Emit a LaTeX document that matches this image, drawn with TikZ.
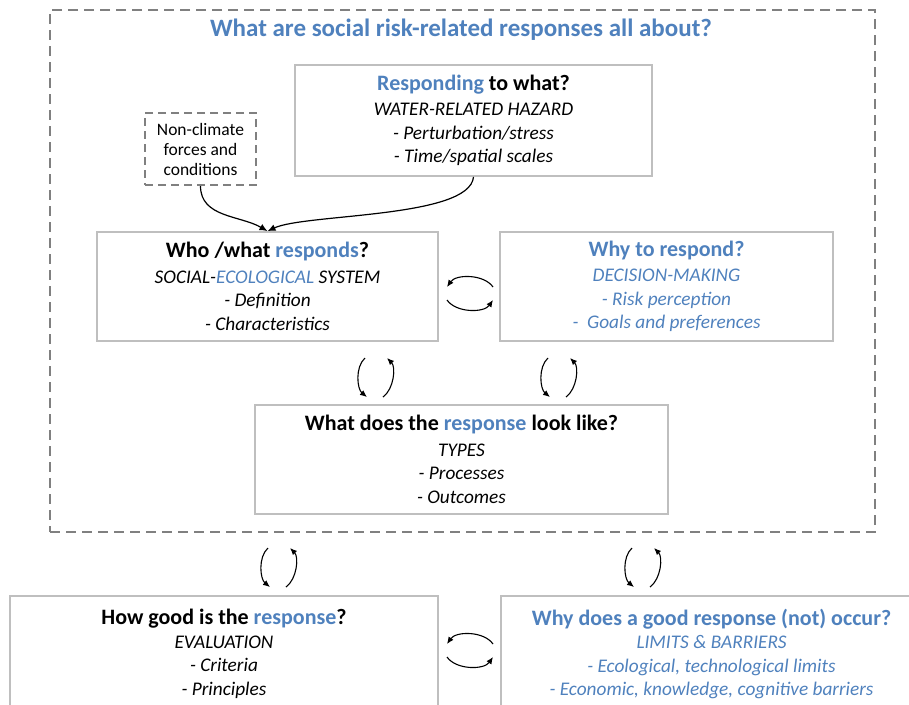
\documentclass[tikz,border=0pt]{standalone}
\usepackage{fontspec}
\setmainfont{Carlito}
\usetikzlibrary{arrows.meta,positioning}
\definecolor{hlblue}{RGB}{79,129,189}
\definecolor{boxgray}{RGB}{191,191,191}
\definecolor{framegray}{RGB}{128,128,128}
\newcommand{\boxhead}[1]{{\fontsize{22}{26}\selectfont\bfseries #1}}
\tikzset{
  box/.style={draw=boxgray,line width=1.8pt,align=center,inner sep=0pt,
    font=\fontsize{19.3}{23.5}\selectfont},
  dashbox/.style={draw=framegray,line width=2pt,dash pattern=on 8pt off 5pt,
    align=center,inner sep=0pt,font=\fontsize{17.5}{20}\selectfont},
  frame/.style={draw=framegray,line width=2.2pt,dash pattern=on 10pt off 6pt,inner sep=0pt},
  link/.style={-{Latex[length=8pt,width=7pt]},line width=1.2pt},
  cyc/.style={-{Latex[length=7pt,width=6pt]},line width=1.1pt},
  hcycle/.pic={
    \draw[cyc] (23,-7) .. controls (14,-20) and (-14,-20) .. (-23,-7);
    \draw[cyc] (-23,6) .. controls (-14,19) and (14,19) .. (23,6);
  },
  vcycle/.pic={
    \draw[cyc] (-10,-19) .. controls (-20,-10) and (-18,12) .. (-8,20);
    \draw[cyc] (8,20) .. controls (19,12) and (21,-10) .. (12,-19);
  }
}
\begin{document}
\begin{tikzpicture}[x=1pt,y=-1pt]
\useasboundingbox (0,0) rectangle (909,704);
% outer frame and title
\node[frame,minimum width=825pt,minimum height=522pt] (frame) at (462.5,271) {};
\node[font=\fontsize{25}{29}\selectfont\bfseries,text=hlblue] (title) at (461,30)
  {What are social risk-related responses all about?};
% boxes
\node[box,minimum width=357pt,minimum height=111pt] (resp) at (473.5,120.5)
  {\boxhead{\textcolor{hlblue}{Responding} to what?}\\[2pt]
   \textit{WATER-RELATED HAZARD}\\ \textit{- Perturbation/stress}\\ \textit{- Time/spatial scales}};
\node[dashbox,minimum width=111pt,minimum height=72pt] (nonclim) at (200.5,149)
  {Non-climate\\forces and\\conditions};
\node[box,minimum width=341pt,minimum height=109pt] (who) at (267.5,286.5)
  {\boxhead{Who /what \textcolor{hlblue}{responds}?}\\[2pt]
   \textit{SOCIAL-\textcolor{hlblue}{ECOLOGICAL} SYSTEM}\\ \textit{- Definition}\\ \textit{- Characteristics}};
\node[box,minimum width=333pt,minimum height=109pt,text=hlblue] (why) at (666.5,286.5)
  {\boxhead{Why to respond?}\\[2pt]
   \textit{DECISION-MAKING}\\ \textit{- Risk perception}\\ \textit{-~ Goals and preferences}};
\node[box,minimum width=413pt,minimum height=109pt] (types) at (461.5,459.5)
  {\boxhead{What does the \textcolor{hlblue}{response} look like?}\\[2pt]
   \textit{TYPES}\\ \textit{- Processes}\\ \textit{- Outcomes}};
\node[box,minimum width=428pt,minimum height=116pt] (eval) at (224,654)
  {\boxhead{How good is the \textcolor{hlblue}{response}?}\\[0pt]
   \textit{EVALUATION}\\ \textit{- Criteria}\\ \textit{- Principles}};
\node[box,minimum width=421pt,minimum height=116pt,text=hlblue] (limits) at (711.5,654)
  {\boxhead{Why does a good response (not) occur?}\\[0pt]
   \textit{LIMITS \& BARRIERS}\\ \textit{- Ecological, technological limits}\\
   \textit{- Economic, knowledge, cognitive barriers}};
% influences
\draw[link] (nonclim.south) to[out=-90,in=150] (who.north);
\draw[link] (resp.south) to[out=-95,in=25,looseness=0.5] (who.north);
% feedback cycles
\coordinate (c-who-why) at (470,294);
\coordinate (c-who-types) at (375,377);
\coordinate (c-why-types) at (558,377);
\coordinate (c-types-eval) at (278,567);
\coordinate (c-types-lim) at (642,567);
\coordinate (c-eval-lim) at (470,651);
\pic at (c-who-why) {hcycle};
\pic at (c-who-types) {vcycle};
\pic at (c-why-types) {vcycle};
\pic at (c-types-eval) {vcycle};
\pic at (c-types-lim) {vcycle};
\pic at (c-eval-lim) {hcycle};
\end{tikzpicture}
\end{document}
